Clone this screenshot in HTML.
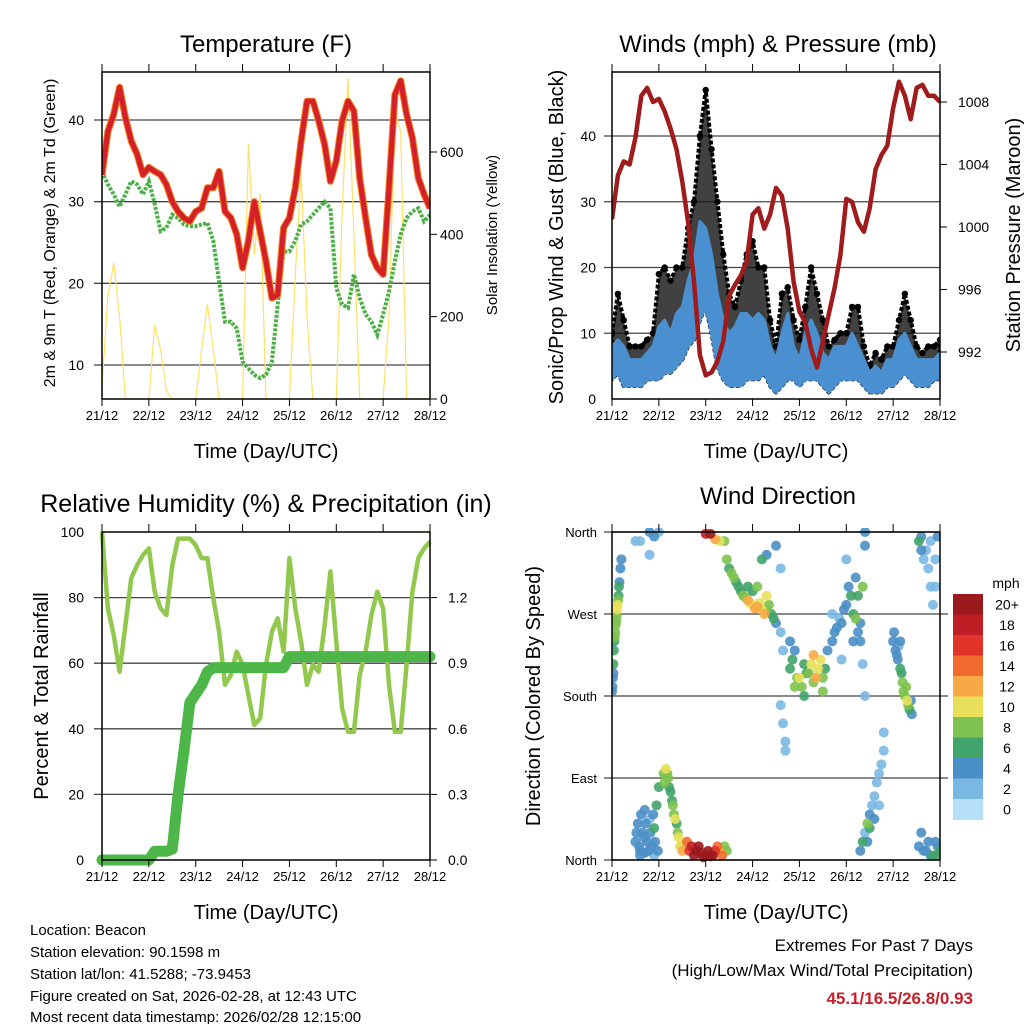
<!DOCTYPE html>
<html><head><meta charset="utf-8"><style>
html,body{margin:0;padding:0;background:#fff;}
svg{display:block;font-family:"Liberation Sans",Arial,sans-serif;}
</style></head><body>
<svg id="fig" xmlns="http://www.w3.org/2000/svg" width="1024" height="1024" viewBox="0 0 1024 1024">
<rect x="0" y="0" width="1024" height="1024" fill="#fff"/>
<g id="g1"></g>
<g id="g2"></g>
<g id="g3"></g>
<g id="g4"></g>
<g font-size="15" fill="#000">
<text x="30" y="935">Location: Beacon</text>
<text x="30" y="957">Station elevation: 90.1598 m</text>
<text x="30" y="979">Station lat/lon: 41.5288; -73.9453</text>
<text x="30" y="1001">Figure created on Sat, 2026-02-28, at 12:43 UTC</text>
<text x="30" y="1022">Most recent data timestamp: 2026/02/28 12:15:00</text>
</g>
<g text-anchor="end">
<text x="973" y="951" font-size="17">Extremes For Past 7 Days</text>
<text x="973" y="976" font-size="17">(High/Low/Max Wind/Total Precipitation)</text>
<text x="973" y="1004" font-size="17" font-weight="bold" fill="#c8202a">45.1/16.5/26.8/0.93</text>
</g>
</svg>
<script>
// ---- data (time step 0.125 day from 21/12 00 UTC) ----
const dayLabels = ["21/12","22/12","23/12","24/12","25/12","26/12","27/12","28/12"];
const tempT = [33.3,38.6,40.7,44,40.3,37.4,35.8,33.3,34.2,33.7,33.3,32.1,30,28.8,28,27.6,28.8,29.2,31.7,31.7,33.7,28.8,28,26,21.9,25.2,30,26.4,22.7,18.2,18.6,26.8,28,31.7,37.4,42.3,42.3,39.9,37,32.5,35,39.9,42.3,41.1,32.9,28,23.5,21.9,21.1,31.7,43.1,44.8,40.7,37.8,32.9,30.9,29.2];
const tempTd = [33.7,32.1,30.9,29.4,30.9,32.5,32.1,30.9,32.5,29.7,26.4,26.8,28.4,28,27.2,27,27,27.2,27.4,25.2,20.2,15.3,15.3,14.5,10.4,9.6,8.8,8.4,8.8,10.4,17.4,23.9,23.9,25.2,27.2,27.6,28.4,29.2,30,29.2,19.4,17.4,17,21.1,18.2,16.2,15.3,13.7,16.2,19,22.7,26,28,28.8,29.2,27.6,28.4];
const solar = [30,250,330,200,0,0,0,0,0,180,120,20,0,0,0,0,0,120,230,120,0,0,0,0,0,620,350,500,0,0,0,0,0,300,550,200,0,0,0,0,0,450,780,400,0,0,0,0,0,200,700,650,0,0,0,0,0];
const tempTicks = [10,20,30,40];
const solarTicks = [0,200,400,600];
const windLo = [3,4,2,2,2,2,3,3,3,4,4,5,6,8,9,12,14,10,5,3,2,2,2,3,3,3,4,2,1,2,3,3,2,3,3,3,2,1,2,3,3,3,3,2,1,1,1,2,2,3,4,3,2,2,2,3,3];
const windHi = [8,9,8,6,6,6,7,8,11,12,10,13,14,18,21,27,26,22,16,12,10,11,13,13,12,13,12,8,6,10,13,8,6,10,12,10,7,6,8,8,8,10,8,6,4,5,4,6,6,9,10,8,6,6,6,6,7];
const gust = [10,16,12,8,8,8,9,10,19,20,18,20,20,26,30,40,47,38,30,22,16,14,18,22,24,20,20,12,8,16,17,12,9,14,20,16,12,8,9,10,10,14,14,8,5,7,6,8,8,12,16,12,8,7,8,8,9];
const pressure = [1000.5,1003.3,1004.2,1004,1005.7,1008.4,1008.9,1008,1008.2,1007.4,1006.3,1005,1002.9,1000.3,996.5,991.8,990.5,990.7,991.4,992.7,995.6,996.3,996.9,997.8,1000.8,1001.2,999.9,1000.8,1002.5,1002,999.9,996.5,994.6,993.9,992.2,991,992.7,994.4,996.1,998.2,1001.8,1001.6,1000.3,999.7,1001.2,1003.7,1004.6,1005.2,1007.6,1009.3,1008.4,1006.9,1008.9,1009.1,1008.4,1008.4,1008];
const windTicks = [0,10,20,30,40];
const presTicks = [992,996,1000,1004,1008];
const rh = [100,76.7,68.6,57.4,71.6,85.9,89.9,93,95,81.8,76.7,74.7,89.9,98,98,98,96,92,92,79.8,69.6,53.4,56.4,63.5,59.5,50.3,41.2,43.2,59.5,69.6,73.7,63.5,92,76.7,66.6,53.4,59.5,57.4,71.6,88,66.6,46.2,39.1,39.1,56.4,63.5,74.7,81.8,76.7,53.4,39.1,39.1,59.5,81.8,92,95,97];
const precip = [0,0,0,0,0,0,0,0,0,0.04,0.04,0.04,0.05,0.3,0.5,0.72,0.76,0.8,0.86,0.88,0.88,0.88,0.88,0.88,0.88,0.88,0.88,0.88,0.88,0.88,0.88,0.88,0.93,0.93,0.93,0.93,0.93,0.93,0.93,0.93,0.93,0.93,0.93,0.93,0.93,0.93,0.93,0.93,0.93,0.93,0.93,0.93,0.93,0.93,0.93,0.93,0.93];
const rhTicks = [0,20,40,60,80,100];
const precipTicks = ["0.0","0.3","0.6","0.9","1.2"];
// wind direction scatter: day, direction (deg), speed (mph)
const dirDay = [0,0.02,0.03,0.04,0.06,0.08,0.1,0.12,0.14,0.16,0.18, 0.5,0.6,0.8,0.9,1.0,0.8, 0.5,0.55,0.6,0.65,0.7,0.75,0.8,0.85,0.9,0.95,1.0, 1.1,1.15,1.2,1.25,1.3,1.35,1.4,1.45,1.5, 1.6,1.7,1.8,1.9,2.0,2.1,2.2,2.3,2.4, 2.0,2.1,2.2,2.3,2.4, 2.45,2.5,2.6,2.7,2.8,2.9,3.0,3.1,3.2,3.3,3.4,3.5, 3.2,3.3,3.5,3.6, 3.6,3.65,3.7,3.7,3.6,3.65, 3.8,3.9,4.0,4.1,4.2,4.3,4.4,4.5,4.6,4.7, 4.7,4.8,4.9,5.0,5.1,5.2,5.25,5.3,5.35,5.4,5.4,5.0,4.9,5.4, 5.3,5.4,5.5,5.6,5.7,5.8,5.8,5.35,5.45, 6.0,6.05,6.1,6.15,6.2,6.25,6.3,6.35,6.4, 6.55,6.6,6.7,6.75,6.8,6.85,6.9,6.95, 6.55,6.65,6.75,6.85,6.95,6.6,
 0.01,0.05,0.07,0.09,0.11,0.13,0.15,0.03,0.2, 0.52,0.58,0.62,0.68,0.72,0.78,0.82,0.88,0.92,0.98,0.6,0.7,0.9, 1.12,1.18,1.22,1.28,1.32,1.38,1.42,1.48, 1.65,1.75,1.85,1.95,2.05,2.15,2.25,2.35,2.45, 2.55,2.65,2.75,2.85,2.95,3.05,3.15,3.25,3.35,3.45,3.0,3.1,3.3,2.9, 3.85,3.95,4.05,4.15,4.25,4.35,4.45,4.55,3.9,4.1,4.3,4.5,3.8, 4.75,4.85,4.95,5.05,5.15,5.2,5.3,5.35,5.25,5.15, 5.55,5.65,5.75,5.45,5.5,5.6,5.7, 6.02,6.08,6.12,6.18,6.22,6.28,6.32,6.38,6.15, 6.6,6.65,6.8,6.9,6.7,6.8,6.9,7.0,6.95];
const dirDeg = [185,200,215,230,245,258,268,280,290,305,320, 350,350,360,355,360,335, 20,40,10,30,55,20,45,15,35,60,80, 95,100,90,75,60,45,30,15,10, 20,15,10,8,5,4,10,10,15, 358,358,352,350,350, 330,320,310,300,290,285,280,278,275,275,270,260, 330,335,345,320, 170,150,130,120,250,230, 210,190,200,215,205,225,210,200,230,240, 270,255,260,280,290,265,290,240,215,360,345,330,220,180, 10,30,50,70,95,120,140,20,40, 240,230,220,210,195,180,175,165,160, 350,355,340,320,300,280,330,355, 15,10,20,5,15,30,
 190,240,250,262,275,285,300,205,330, 30,15,50,25,40,10,30,50,20,10,5,8,5, 85,95,80,65,50,40,25,15, 10,5,15,3,10,5,15,5,10, 315,305,295,288,282,276,282,270,280,265,295,300,290,300, 220,200,190,205,215,200,220,210,230,180,195,185,240, 250,265,275,300,270,310,260,300,250,240, 60,85,105,20,35,45,60, 250,225,235,205,185,190,170,175,240, 340,330,350,300,10,5,20,10,5];
const dirSpd = [4,4,6,6,8,8,8,10,6,4,4, 2,2,4,4,2,2, 4,4,4,4,4,4,2,4,6,6,6, 8,10,8,6,8,10,8,10,12, 14,18,20,20,20,18,16,12,8, 18,20,12,10,8, 8,6,8,6,8,12,10,12,10,8,6,4, 6,4,4,2, 2,2,2,2,2,2, 6,8,10,6,8,12,10,8,4,4, 2,4,4,4,6,8,6,4,2,4,4,2,2,2, 4,2,4,2,2,2,2,6,8, 4,4,4,6,8,8,10,6,4, 6,4,2,2,2,2,2,4, 4,4,4,6,4,4,
 4,6,8,8,10,8,6,4,4, 4,4,4,4,4,4,4,4,4,4,4,4,2, 8,8,6,6,8,6,10,8, 16,20,20,20,20,20,14,14,8, 8,6,6,8,10,12,10,12,8,6,6,8,10,6, 6,8,8,6,10,12,10,6,4,6,8,8,4, 4,2,4,4,6,4,4,8,4,4, 2,2,2,4,6,4,2, 4,4,2,6,8,8,8,4,4, 4,2,2,2,4,4,4,6,6];
const dirTicks = ["North","East","South","West","North"];
const cbLabels = ["0","2","4","6","8","10","12","14","16","18","20+"];
const cbColors = ["#b5e0f7","#7ab8e4","#4a8fc7","#41a46a","#7dc24f","#e8e05a","#f9a846","#f26a2e","#e0342b","#bf1e24","#9b1a1e"];

// ---- helpers ----
const NS = "http://www.w3.org/2000/svg";
function mk(tag, attrs, parent) {
  const e = document.createElementNS(NS, tag);
  for (const k in attrs) e.setAttribute(k, attrs[k]);
  if (parent) parent.appendChild(e);
  return e;
}
function txt(parent, x, y, s, size, anchor, extra) {
  const t = mk("text", Object.assign({x: x, y: y, "font-size": size, "text-anchor": anchor || "middle"}, extra || {}), parent);
  t.textContent = s;
  return t;
}
function makeX(x0, x1) { return d => x0 + d * (x1 - x0) / 7; }
function makeY(y0, y1, v0, v1) { return v => y0 + (v - v0) * (y1 - y0) / (v1 - v0); }
function tOf(i) { return i * 0.125; }
function pathFrom(arr, X, Y) {
  return arr.map((v, i) => (i ? "L" : "M") + X(tOf(i)).toFixed(1) + "," + Y(v).toFixed(1)).join("");
}
function bandFrom(lo, hi, X, Y) {
  let d = hi.map((v, i) => (i ? "L" : "M") + X(tOf(i)).toFixed(1) + "," + Y(v).toFixed(1)).join("");
  for (let i = lo.length - 1; i >= 0; i--) d += "L" + X(tOf(i)).toFixed(1) + "," + Y(lo[i]).toFixed(1);
  return d + "Z";
}
function frame(g, x0, y0, x1, y1) {
  const X = makeX(x0, x1);
  dayLabels.forEach((lab, i) => {
    const x = X(i);
    const t1 = mk("line", {x1: x, y1: y0, x2: x, y2: y0 - 8, stroke: "#000", "stroke-width": 1}, g);
    
    
    const t2 = mk("line", {x1: x, y1: y1, x2: x, y2: y1 + 7, stroke: "#000", "stroke-width": 1}, g);
    
    
    const tl = txt(g, x, y1 + 21, lab, 13);
    
    
  });
  const at = txt(g, (x0 + x1) / 2, y1 + 59, "Time (Day/UTC)", 20);
  
  
}
function grid(g, x0, x1, y, ext) {
  const l = mk("line", {x1: x0 - (ext || 0), y1: y, x2: x1, y2: y, stroke: "#444", "stroke-width": 1.3}, g);
  
  
}
function border(g, x0, y0, x1, y1) {
  const r = mk("rect", {x: x0, y: y0, width: x1 - x0, height: y1 - y0, fill: "none", stroke: "#000", "stroke-width": 1.5}, g);
  
  
}
function ylab(g, x, y, s, size, anchor) {
  const t = txt(g, x, y, s, size, anchor);
  
  
}
function rotTitle(g, x, y, s, size, name) {
  const t = txt(g, 0, 0, s, size, "middle", {transform: "translate(" + x + "," + y + ") rotate(-90)"});
  
  
}

// ---- Panel 1: Temperature ----
(function () {
  const g = document.getElementById("g1");
  const x0 = 102, x1 = 430, y0 = 72, y1 = 399;
  const X = makeX(x0, x1), Y = makeY(120, 365, 40, 10), YS = makeY(399, 152, 0, 600);
  const tt = txt(g, 266, 52, "Temperature (F)", 24);
  
  
  tempTicks.forEach(v => { grid(g, x0, x1, Y(v), 8); ylab(g, 84, Y(v) + 5, String(v), 14, "end"); });
  solarTicks.forEach(v => {
    const l = mk("line", {x1: x1, y1: YS(v), x2: x1 + 7, y2: YS(v), stroke: "#000"}, g);
    
    
    ylab(g, 440, YS(v) + 5, String(v), 14, "start");
  });
  const clip = mk("clipPath", {id: "c1"}, g);
  mk("rect", {x: x0, y: y0, width: x1 - x0, height: y1 - y0}, clip);
  const pg = mk("g", {"clip-path": "url(#c1)"}, g);
  const ps = mk("path", {d: pathFrom(solar, X, YS), fill: "none", stroke: "#ffe066", "stroke-width": 1.2}, pg);
  
  
  const pd = mk("path", {d: pathFrom(tempTd, X, Y), fill: "none", stroke: "#4cb047", "stroke-width": 4, "stroke-dasharray": "3 1.5"}, pg);
  
  
  const po = mk("path", {d: pathFrom(tempT, X, Y), fill: "none", stroke: "#f47c20", "stroke-width": 7, "stroke-linejoin": "round"}, pg);
  
  
  const pr = mk("path", {d: pathFrom(tempT, X, Y), fill: "none", stroke: "#d42027", "stroke-width": 5, "stroke-linejoin": "round"}, pg);
  
  
  border(g, x0, y0, x1, y1);
  frame(g, x0, y0, x1, y1);
  rotTitle(g, 55, 233, "2m & 9m T (Red, Orange) & 2m Td (Green)", 16, "left-axis-title");
  rotTitle(g, 497, 235, "Solar Insolation (Yellow)", 15, "right-axis-title");
})();

// ---- Panel 2: Winds ----
(function () {
  const g = document.getElementById("g2");
  const x0 = 612, x1 = 940, y0 = 72, y1 = 399;
  const X = makeX(x0, x1), Y = makeY(399, 136, 0, 40), YP = makeY(352, 102, 992, 1008);
  const tt = txt(g, 778, 52, "Winds (mph) & Pressure (mb)", 24);
  
  
  windTicks.forEach(v => { if (v > 0) grid(g, x0, x1, Y(v), 8); ylab(g, 596, Y(v) + 5, String(v), 14, "end"); });
  presTicks.forEach(v => {
    const l = mk("line", {x1: x1, y1: YP(v), x2: x1 + 7, y2: YP(v), stroke: "#000"}, g);
    
    
    ylab(g, 958, YP(v) + 5, String(v), 14, "start");
  });
  const clip = mk("clipPath", {id: "c2"}, g);
  mk("rect", {x: x0, y: y0, width: x1 - x0, height: y1 - y0}, clip);
  const pg = mk("g", {"clip-path": "url(#c2)"}, g);
  const gb = mk("path", {d: bandFrom(windLo, gust, X, Y), fill: "#111", "fill-opacity": 0.8, stroke: "#000", "stroke-width": 4, "stroke-linejoin": "round", "stroke-dasharray": "4 2"}, pg);
  
  
  gust.forEach((v, i) => {
    const c = mk("circle", {cx: X(tOf(i)), cy: Y(v), r: 3.2, fill: "#000"}, pg);
    
    
  });
  const wb = mk("path", {d: bandFrom(windLo, windHi, X, Y), fill: "#4a90d0", stroke: "#4a90d0", "stroke-width": 3, "stroke-linejoin": "round"}, pg);
  
  
  const pp = mk("path", {d: pathFrom(pressure, X, YP), fill: "none", stroke: "#a01c1c", "stroke-width": 4.5, "stroke-linejoin": "round"}, pg);
  
  
  border(g, x0, y0, x1, y1);
  frame(g, x0, y0, x1, y1);
  rotTitle(g, 563, 237, "Sonic/Prop Wind & Gust (Blue, Black)", 20, "left-axis-title");
  rotTitle(g, 1020, 235, "Station Pressure (Maroon)", 20, "right-axis-title");
})();

// ---- Panel 3: RH & precip ----
(function () {
  const g = document.getElementById("g3");
  const x0 = 102, x1 = 430, y0 = 532, y1 = 860;
  const X = makeX(x0, x1), Y = makeY(860, 532, 0, 100), YR = makeY(860, 532, 0, 1.5);
  const tt = txt(g, 266, 512, "Relative Humidity (%) & Precipitation (in)", 25);
  
  
  rhTicks.forEach(v => { if (v > 0 && v < 100) grid(g, x0, x1, Y(v), 8); ylab(g, 84, Y(v) + 5, String(v), 14, "end"); });
  precipTicks.forEach(s => {
    const v = parseFloat(s);
    const l = mk("line", {x1: x1, y1: YR(v), x2: x1 + 7, y2: YR(v), stroke: "#000"}, g);
    
    
    ylab(g, 448, YR(v) + 5, s, 14, "start");
  });
  const pr = mk("path", {d: pathFrom(rh, X, Y), fill: "none", stroke: "#92c84e", "stroke-width": 4.5, "stroke-linejoin": "round"}, g);
  
  
  const pp = mk("path", {d: pathFrom(precip, X, YR), fill: "none", stroke: "#4cb648", "stroke-width": 11, "stroke-linejoin": "round", "stroke-linecap": "round"}, g);
  
  
  border(g, x0, y0, x1, y1);
  frame(g, x0, y0, x1, y1);
  rotTitle(g, 48, 696, "Percent & Total Rainfall", 20, "left-axis-title");
})();

// ---- Panel 4: Wind direction ----
(function () {
  const g = document.getElementById("g4");
  const x0 = 612, x1 = 940, y0 = 532, y1 = 860;
  const X = makeX(x0, x1), Y = makeY(860, 532, 0, 360);
  const tt = txt(g, 778, 504, "Wind Direction", 24);
  
  
  dirTicks.forEach((s, i) => { grid(g, x0, x1 + (i > 0 && i < 4 ? 8 : 0), Y(i * 90), 8); ylab(g, 597, Y(i * 90) + 5, s, 13, "end"); });
  const clip = mk("clipPath", {id: "c4"}, g);
  mk("rect", {x: x0, y: y0 - 4, width: x1 - x0, height: y1 - y0 + 8}, clip);
  const pg = mk("g", {"clip-path": "url(#c4)"}, g);
  const order = dirSpd.map((s, i) => i).sort((a, b) => dirSpd[a] - dirSpd[b]);
  order.forEach(i => {
    const ci = Math.min(10, Math.round(dirSpd[i] / 2));
    const c = mk("circle", {cx: X(dirDay[i]), cy: Y(dirDeg[i]), r: 5, fill: cbColors[ci], "fill-opacity": 0.9}, pg);
    
    
  });
  border(g, x0, y0, x1, y1);
  frame(g, x0, y0, x1, y1);
  rotTitle(g, 540, 696, "Direction (Colored By Speed)", 20, "left-axis-title");
  // colorbar
  const cb = mk("g", {}, g);
  
  
  const bh = 20.5, top = 594;
  const ut = txt(cb, 1006, 588, "mph", 14);
  
  
  cbLabels.forEach((s, i) => {
    const k = 10 - i;
    const y = top + i * bh;
    const r = mk("rect", {x: 953, y: y, width: 30, height: bh + 0.5, fill: cbColors[k]}, cb);
    
    
    const t = txt(cb, 1007, y + bh / 2 + 5, cbLabels[k], 14);
    
    
  });
})();
</script>
</body></html>
